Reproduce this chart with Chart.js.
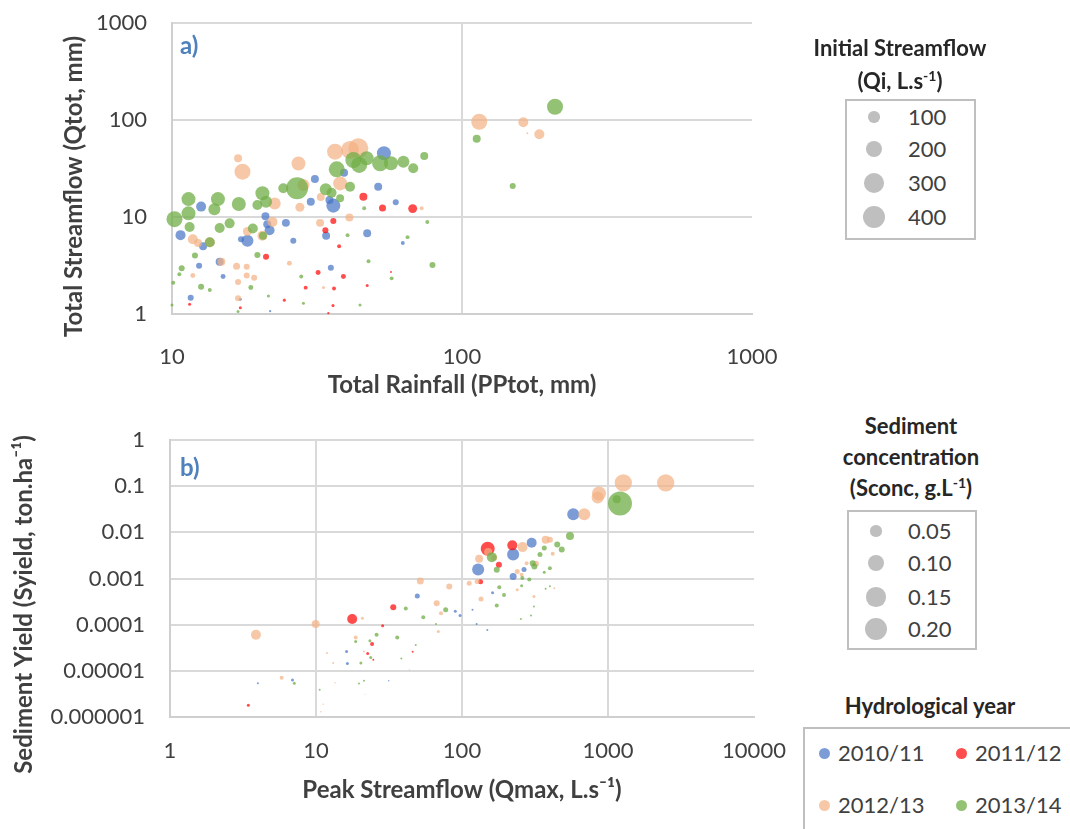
<!DOCTYPE html>
<html>
<head>
<meta charset="utf-8">
<title>Streamflow and sediment yield</title>
<script src="https://cdn.jsdelivr.net/npm/chart.js@4.4.1/dist/chart.umd.min.js"></script>
<style>
  body { margin: 0; background: #fff; width: 1070px; height: 829px; overflow: hidden; position: relative;
         font-family: Lato, "Open Sans", sans-serif; }
  canvas { position: absolute; left: 0; }
  #chartA { top: 0; }
  #chartB { top: 400px; }
  .panel-tag { position: absolute; left: 180px; font-weight: bold; font-size: 24px; color: #4f81bd; line-height: 28px; }
  .lg-title { position: absolute; text-align: center; font-weight: bold; font-size: 22px; color: #262626; }
  .lg-title sup { font-size: 14px; line-height: 0; }
  .lg-box { position: absolute; border: 2px solid #bfbfbf; box-sizing: border-box; }
  .lg-row { position: absolute; font-size: 22px; color: #404040; line-height: 26px; height: 26px; white-space: nowrap; }
  .dot { position: absolute; border-radius: 50%; }
</style>
</head>
<body>
<canvas id="chartA" width="800" height="400"></canvas>
<canvas id="chartB" width="800" height="429"></canvas>
<div class="panel-tag" style="top:31px">a)</div>
<div class="panel-tag" style="top:453px">b)</div>

<div class="lg-title" style="left:790px; top:31px; width:220px; line-height:33px">Initial Streamflow<br>(Qi, L.s<sup>-1</sup>)</div>
<div class="lg-box" style="left:845px; top:99px; width:131px; height:141px"></div>
<div id="legendQi"></div>

<div class="lg-title" style="left:800px; top:410px; width:222px; line-height:31px">Sediment<br>concentration<br>(Sconc, g.L<sup>-1</sup>)</div>
<div class="lg-box" style="left:847px; top:510px; width:130px; height:140px"></div>
<div id="legendSconc"></div>

<div class="lg-title" style="left:810px; top:692px; width:240px; line-height:28px">Hydrological year</div>
<div class="lg-box" style="left:803px; top:727px; width:300px; height:200px"></div>
<div id="legendYears"></div>

<script>
// ─── Data ─────────────────────────────────────────────────────────────────────

const years = ['2010/11', '2011/12', '2012/13', '2013/14'];
const yearColors = ['rgba(68,114,196,0.7)', 'rgba(255,0,0,0.7)', 'rgba(244,177,131,0.7)', 'rgba(112,173,71,0.75)'];

// panel a: [total rainfall mm, total streamflow mm, initial streamflow L/s]
const rainflow2010 = [[12.6,12.8,77],[10.7,6.5,77],[12.8,5.0,49],[17.3,5.9,28],[18.2,5.7,111],[21.0,10.2,49],[21.3,8.4,49],
  [21.7,7.3,77],[24.7,8.7,49],[26.2,5.7,28],[31.1,24.7,49],[30.1,14.4,49],[36.0,13.1,151],[34.9,15.0,49],[39.2,28.6,49],
  [53.8,45.4,151],[51.4,20.5,49],[59.1,14.2,28],[47.1,6.8,49],[34.0,6.4,49],[62.5,5.4,12],[35.3,3.0,28],[11.6,1.47,28],
  [12.4,3.15,28],[14.6,3.46,49],[15.0,2.43,19],[17.2,1.42,7],[21.8,1.07,4]];
const rainflow2011 = [[45.7,16.2,49],[53.2,12.4,38],[67.6,12.2,62],[36.0,9.1,28],[33.8,7.3,28],[37.7,5.0,12],[21.1,3.9,28],
  [31.9,2.68,19],[39.0,2.44,19],[56.9,2.71,3],[28.9,1.87,12],[36.2,1.83,12],[47.1,1.97,7],[24.4,1.39,7],[35.9,1.22,7],
  [34.6,1.02,4],[17.2,1.16,7],[11.5,1.26,7]];
const rainflow2012 = [[16.9,40.3,49],[17.5,29.3,197],[27.3,35.6,151],[22.6,13.8,111],[28.4,21.4,111],[27.6,12.6,62],
  [32.6,16.1,49],[38.0,22.2,151],[36.5,47.1,197],[41.1,49.1,249],[43.9,51.1,308],[32.4,8.7,49],[40.9,9.9,49],[72.6,12.3,12],
  [22.2,8.9,77],[20.5,6.4,77],[18.2,7.1,62],[11.8,5.9,77],[12.3,5.4,49],[13.5,5.5,77],[14.8,3.46,49],[16.7,3.1,38],
  [18.1,3.07,28],[25.4,3.33,19],[11.8,2.5,19],[16.9,2.14,28],[18.1,2.5,28],[19.2,2.37,28],[16.9,1.45,28],[33.3,1.88,7],
  [114.7,96.0,197],[162.7,94.7,77],[168,72.9,3],[184.8,71.2,77]];
const rainflow2013 = [[10.2,9.5,197],[11.4,15.3,151],[11.4,10.9,151],[14.4,15.3,151],[14.0,12.0,111],[17.0,13.6,151],
  [20.5,17.6,151],[21.1,14.4,111],[19.7,13.3,77],[27.0,19.8,372],[24.2,19.8,77],[33.9,19.3,111],[35.5,17.8,77],[38.0,15.6,49],
  [37.0,31.0,197],[42.2,38.7,197],[44.2,34.4,197],[46.9,40.3,151],[52.2,35.8,197],[56.9,35.8,151],[62.8,37.2,111],
  [67.9,31.8,77],[74.1,42.6,49],[41.1,20.5,77],[46.0,12.3,12],[20.6,6.4,49],[19.0,7.6,77],[15.8,8.6,77],[14.6,7.7,77],
  [11.5,7.9,77],[13.5,5.5,77],[12.0,4.0,28],[19.7,4.06,28],[40.3,6.5,12],[64.9,6.2,12],[75.9,8.9,12],[79.1,3.2,28],
  [47.6,3.5,12],[57.2,2.33,12],[27.9,2.43,12],[10.8,2.96,28],[10.6,2.57,12],[10.1,2.1,12],[12.6,1.91,28],[13.5,1.77,12],
  [18.7,1.88,19],[21.5,1.53,7],[28.4,1.29,7],[44.5,1.24,7],[16.9,1.06,7],[10.0,1.24,7],[209.3,137,197],[112.4,64.1,49],
  [149.6,20.9,28]];

// panel b: [peak streamflow L/s, sediment yield ton/ha, sediment concentration g/L]
const peakyield2010 = [[578,0.0246,0.058],[224,0.00333,0.058],[300,0.00597,0.04],[129,0.00157,0.058],[224,0.0011,0.0196],
  [266,0.00157,0.01],[49.4,0.00042,0.01],[162,0.00049,0.0036],[90,0.000195,0.0036],[97,0.000157,0.0036],[118,0.00021,0.0016],
  [16.2,0.0000263,0.0036],[16.4,0.0000144,0.0036],[6.9,0.0000063,0.0036],[4.0,0.0000054,0.0016],[31.5,0.0000061,0.0008],
  [126,0.000104,0.0016],[149,0.0000767,0.0016]];
const peakyield2011 = [[150,0.00442,0.078],[221,0.00522,0.04],[179,0.00199,0.0144],[134,0.000848,0.01],[17.7,0.000133,0.04],
  [33.8,0.000238,0.0144],[28.6,0.0000951,0.0036],[24.2,0.000038,0.0064],[22.6,0.0000238,0.0036],[24.7,0.0000173,0.0016],
  [45.9,0.0000259,0.0016],[3.44,0.0000018,0.0036]];
const peakyield2012 = [[1273,0.118,0.12],[2484,0.118,0.12],[868,0.0694,0.078],[850,0.0568,0.058],[688,0.0246,0.058],
  [374,0.00694,0.0256],[400,0.00694,0.0144],[418,0.00344,0.0064],[151,0.00373,0.0256],[166,0.00282,0.0144],[131,0.00268,0.0256],
  [260,0.00479,0.04],[277,0.00215,0.0064],[321,0.00209,0.0144],[239,0.00142,0.01],[256,0.0012,0.0064],[51.8,0.00088,0.0196],
  [81.8,0.00067,0.0144],[112,0.00079,0.01],[127,0.00086,0.01],[67.1,0.00029,0.0144],[71.8,0.000176,0.0064],
  [68.8,0.0000715,0.0036],[135,0.00036,0.01],[239,0.00057,0.0036],[311,0.000406,0.0036],[429,0.000615,0.0016],
  [3.88,0.0000606,0.04],[9.95,0.000104,0.0256],[20.8,0.000137,0.0036],[18.7,0.000053,0.0064],[11.9,0.0000243,0.0016],
  [21.3,0.0000263,0.0016],[13.1,0.0000147,0.0016],[43.6,0.0000105,0.0008],[5.82,0.0000071,0.0064],[13.5,0.0000055,0.0008],
  [11.2,0.0000019,0.0008],[10.8,0.0000013,0.0008],[21.7,0.0000031,0.0004]];
const peakyield2013 = [[1208,0.042,0.23],[1148,0.052,0.0256],[549,0.0083,0.0256],[449,0.00548,0.0144],[482,0.00427,0.0144],
  [366,0.00456,0.01],[342,0.00333,0.01],[160,0.0029,0.04],[173,0.00155,0.0144],[305,0.00215,0.0144],[313,0.00182,0.0144],
  [400,0.00167,0.0064],[366,0.00137,0.0036],[259,0.00102,0.0064],[289,0.00095,0.0064],[180,0.00065,0.0064],
  [194,0.00044,0.0064],[256,0.0007,0.0036],[173,0.00026,0.0064],[311,0.000246,0.0016],[374,0.0006,0.0016],
  [400,0.00068,0.0016],[297,0.000157,0.0016],[253,0.000133,0.0016],[41.2,0.000223,0.0064],[77.3,0.00021,0.01],
  [54.3,0.000144,0.0064],[66.4,0.000104,0.0016],[26.0,0.0000606,0.0064],[36.0,0.000053,0.0064],[18.7,0.0000434,0.0036],
  [23.4,0.0000449,0.0036],[48.2,0.0000362,0.0016],[23.7,0.0000195,0.0036],[38.4,0.0000185,0.0016],[20.3,0.0000147,0.0036],
  [7.1,0.0000054,0.0036],[10.6,0.0000039,0.0016],[21.3,0.0000061,0.0016],[19.7,0.0000053,0.0016]];

// tick labels
const xTicksA = ['10', '100', '1000'];
const yTicksA = ['1', '10', '100', '1000'];
const xTicksB = ['1', '10', '100', '1000', '10000'];
const yTicksB = ['0.000001', '0.00001', '0.0001', '0.001', '0.01', '0.1', '1'];

// size legends
const legendQi = [100, 200, 300, 400];
const legendSconc = ['0.05', '0.10', '0.15', '0.20'];

// ─── Helpers ──────────────────────────────────────────────────────────────────

const GRID = '#d9d9d9';
const TEXT = '#404040';
const FONT = 'Lato, "Open Sans", sans-serif';
const radiusQi = (q) => 0.57 * Math.sqrt(q);
const radiusSconc = (s) => 25 * Math.sqrt(s);

Chart.defaults.font.family = FONT;

// y titles sit a little below the middle of the axis in the original, so draw them ourselves
const yTitlePlugin = {
  id: 'yTitle',
  afterDraw(chart, args, opts) {
    const { ctx, chartArea } = chart;
    ctx.save();
    ctx.translate(opts.x, (chartArea.top + chartArea.bottom) / 2 + opts.shift);
    ctx.rotate(-Math.PI / 2);
    ctx.font = 'bold 24px ' + FONT;
    ctx.fillStyle = TEXT;
    ctx.textAlign = 'center';
    ctx.textBaseline = 'middle';
    ctx.fillText(opts.text, 0, 0);
    ctx.restore();
  },
};

function bubbleSet(label, rows, color, sizeFn, order) {
  return {
    label,
    data: rows.map(([x, y, s]) => ({ x, y, r: sizeFn(s) })),
    backgroundColor: color,
    borderWidth: 0,
    hoverBorderWidth: 0,
    clip: false,
    order,
  };
}

function logAxis(labels, opts) {
  const values = labels.map(Number);
  return {
    type: 'logarithmic',
    min: values[0],
    max: values[values.length - 1],
    afterBuildTicks: (axis) => { axis.ticks = values.map((v) => ({ value: v })); },
    afterFit: (axis) => {
      if (opts.width) axis.width = opts.width;
      if (opts.height) axis.height = opts.height;
      // layout padding alone decides where the plot area sits
      axis.paddingTop = axis.paddingBottom = axis.paddingLeft = axis.paddingRight = 0;
    },
    grid: {
      drawTicks: false,
      lineWidth: 2,
      color: (c) => (opts.hideLast && c.index === values.length - 1 ? 'rgba(0,0,0,0)' : GRID),
    },
    border: { color: '#cfcfcf', width: 2 },
    ticks: {
      autoSkip: false,
      maxRotation: 0,
      padding: opts.tickPad,
      color: TEXT,
      font: { size: 22 },
      callback: (value, i) => labels[i],
    },
    title: {
      display: !!opts.title,
      text: opts.title || '',
      color: TEXT,
      font: { size: 24, weight: 'bold' },
      padding: opts.titlePad,
    },
  };
}

function baseOptions(padding, x, y, yTitle) {
  return {
    responsive: false,
    animation: false,
    events: [],
    layout: { padding },
    plugins: { legend: { display: false }, tooltip: { enabled: false }, yTitle },
    scales: { x, y },
  };
}

// ─── Panel a ──────────────────────────────────────────────────────────────────

const rainflow = [rainflow2010, rainflow2011, rainflow2012, rainflow2013];
new Chart(document.getElementById('chartA'), {
  type: 'bubble',
  data: { datasets: rainflow.map((rows, i) => bubbleSet(years[i], rows, yearColors[i], radiusQi, 3 - i)) },
  options: baseOptions(
    { top: 23, right: 48, bottom: 0, left: 0 },
    logAxis(xTicksA, { height: 86, tickPad: 30, hideLast: true, title: 'Total Rainfall (PPtot, mm)', titlePad: { top: 0, bottom: 0 } }),
    logAxis(yTicksA, { width: 172, tickPad: 25 }),
    { text: 'Total Streamflow (Qtot, mm)', x: 74, shift: 18 }
  ),
  plugins: [yTitlePlugin],
});

// ─── Panel b ──────────────────────────────────────────────────────────────────

const peakyield = [peakyield2010, peakyield2011, peakyield2012, peakyield2013];
new Chart(document.getElementById('chartB'), {
  type: 'bubble',
  data: { datasets: peakyield.map((rows, i) => bubbleSet(years[i], rows, yearColors[i], radiusSconc, 3 - i)) },
  options: baseOptions(
    { top: 40, right: 46, bottom: 0, left: 0 },
    logAxis(xTicksB, { height: 112, tickPad: 21, hideLast: true, title: 'Peak Streamflow (Qmax, L.s⁻¹)', titlePad: { top: 0, bottom: 24 } }),
    logAxis(yTicksB, { width: 170, tickPad: 25 }),
    { text: 'Sediment Yield (Syield, ton.ha⁻¹)', x: 24, shift: 26 }
  ),
  plugins: [yTitlePlugin],
});

// ─── Legends ──────────────────────────────────────────────────────────────────

function addRow(parent, cx, cy, r, color, textLeft, text) {
  const dot = document.createElement('div');
  dot.className = 'dot';
  Object.assign(dot.style, { left: (cx - r) + 'px', top: (cy - r) + 'px', width: 2 * r + 'px', height: 2 * r + 'px', background: color });
  parent.appendChild(dot);
  const label = document.createElement('div');
  label.className = 'lg-row';
  Object.assign(label.style, { left: textLeft + 'px', top: (cy - 13) + 'px' });
  label.textContent = text;
  parent.appendChild(label);
}

const qiRowsY = [117, 149, 183, 217];
legendQi.forEach((q, i) => addRow(document.getElementById('legendQi'), 874, qiRowsY[i], radiusQi(q), '#bfbfbf', 908, String(q)));

const scRowsY = [531, 563, 597, 629];
legendSconc.forEach((s, i) => addRow(document.getElementById('legendSconc'), 876, scRowsY[i], radiusSconc(Number(s)), '#bfbfbf', 908, s));

const yearPos = [[824, 753], [961, 753], [824, 805], [961, 805]];
years.forEach((y, i) => addRow(document.getElementById('legendYears'), yearPos[i][0], yearPos[i][1], 5.5, yearColors[i], yearPos[i][0] + 14, y));
</script>
</body>
</html>
